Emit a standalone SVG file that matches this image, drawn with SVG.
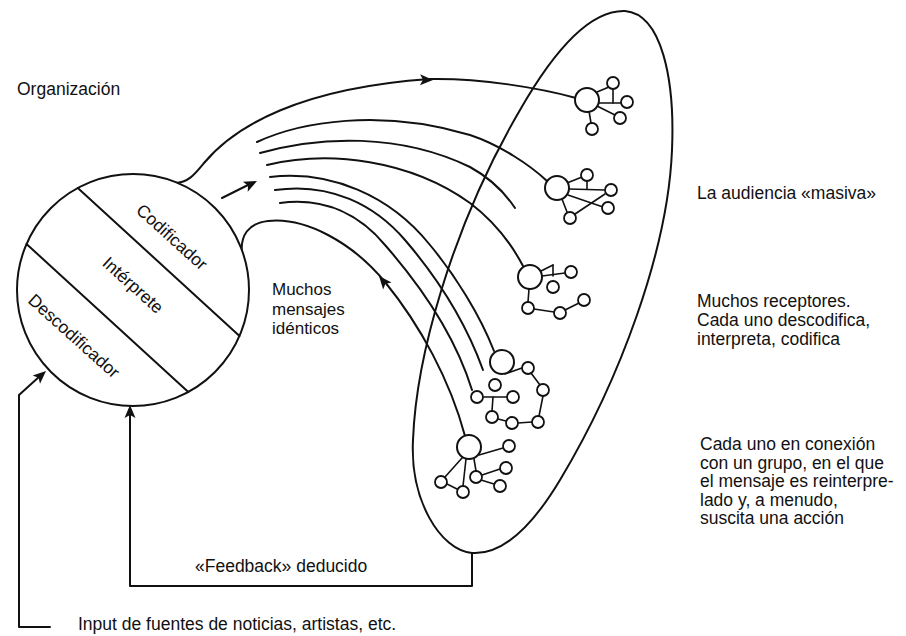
<svg xmlns="http://www.w3.org/2000/svg" width="906" height="636" viewBox="0 0 906 636">
  <style>
    .ln { fill: none; stroke: #111; stroke-width: 2; stroke-linecap: round; stroke-linejoin: round; }
    .th { fill: none; stroke: #111; stroke-width: 1.6; stroke-linecap: round; }
    .big { fill: #fff; stroke: #111; stroke-width: 2; }
    .sm { fill: #fff; stroke: #111; stroke-width: 1.8; }
    .ah { fill: #111; }
    text { font-family: "Liberation Sans", Arial, Helvetica, sans-serif; font-size: 17.5px; fill: #111; }
    .mid { font-size: 17px; }
  </style>
  <defs>
    <!-- filled arrowhead, tip at the origin, pointing along +x -->
    <path id="ah" d="M0,0 L-13,-5.5 L-10,0 L-13,5.5 Z"/>
  </defs>
  <rect width="906" height="636" fill="#fff"/>

  <!-- connectors -->
  <g id="connectors">
    <!-- channel from the organisation to the first receiver -->
    <path class="ln" d="M175,183 C188,183 195,174 204,163 C235,126 300,88 430,79 C480,78 540,88 576,98"/>
    <!-- return channel ending at the last receiver -->
    <path class="ln" d="M242,254 C240,236 248,223 268,221 C305,217 352,242 385,282 C420,325 450,380 465,436"/>
    <!-- bundle of identical messages -->
    <path class="ln" d="M257,142 C300,122 380,108 470,135 C500,145 530,165 547,181"/>
    <path class="ln" d="M260,153 C320,136 400,133 470,167 C490,178 505,193 515,208"/>
    <path class="ln" d="M267,165 C330,150 410,160 470,203 C495,222 512,245 523,266"/>
    <path class="ln" d="M270,177 C330,170 390,195 430,245 C455,275 480,315 494,351"/>
    <path class="ln" d="M275,190 C330,182 375,205 405,240 C435,275 465,320 483,370"/>
    <path class="ln" d="M280,203 C325,197 360,215 385,245 C420,285 455,335 472,390"/>
    <!-- small arrow at the mouth of the channel -->
    <path class="ln" d="M222,198 L250,184"/>
    <!-- inferred feedback loop -->
    <path class="ln" d="M472,553 L472,586 L130,586 L130,412"/>
    <!-- input from news sources -->
    <path class="ln" d="M50,627 L19,627 L19,395 L40,376"/>
    <!-- arrowheads -->
    <use href="#ah" class="ah" transform="translate(433,80) rotate(1)"/>
    <use href="#ah" class="ah" transform="translate(257,181) rotate(-26)"/>
    <use href="#ah" class="ah" transform="translate(379,276) rotate(-130)"/>
    <use href="#ah" class="ah" transform="translate(46,371) rotate(-42)"/>
    <use href="#ah" class="ah" transform="translate(130,405) rotate(-90)"/>
  </g>

  <!-- the organisation: encoder / interpreter / decoder -->
  <g id="organizacion">
    <circle class="big" cx="133" cy="290" r="116"/>
    <line class="ln" x1="77.8" y1="188" x2="239.5" y2="336"/>
    <line class="ln" x1="26.5" y1="244" x2="188.3" y2="392"/>
    <text transform="translate(172,237) rotate(42)" y="6" text-anchor="middle">Codificador</text>
    <text transform="translate(133,285) rotate(42)" y="6" text-anchor="middle">Intérprete</text>
    <text transform="translate(74,336) rotate(42)" y="6" text-anchor="middle">Descodificador</text>
  </g>

  <!-- the mass audience -->
  <g id="audiencia">
    <path class="ln" d="M472,553 C440,550 410,500 413,440 C416,360 450,230 520,110 C560,40 595,10 625,11 C662,14 675,80 672,150 C668,250 620,380 560,480 C530,530 500,555 472,553 Z"/>
  </g>

  <!-- receivers, each with its own group -->
  <g id="receptor1">
    <line class="th" x1="597" y1="92" x2="609" y2="87"/>
    <line class="th" x1="598" y1="103" x2="621" y2="103"/>
    <line class="th" x1="613" y1="89" x2="613" y2="103"/>
    <line class="th" x1="597" y1="106" x2="615" y2="115"/>
    <line class="th" x1="589" y1="111" x2="591" y2="123"/>
    <circle class="big" cx="587" cy="100" r="12"/>
    <circle class="sm" cx="613" cy="83" r="6"/>
    <circle class="sm" cx="627" cy="102" r="6"/>
    <circle class="sm" cx="620" cy="118" r="6"/>
    <circle class="sm" cx="592" cy="129" r="6"/>
  </g>

  <g id="receptor2">
    <line class="th" x1="567" y1="183" x2="582" y2="177"/>
    <line class="th" x1="587" y1="180" x2="587" y2="189"/>
    <line class="th" x1="569" y1="189" x2="605" y2="190"/>
    <line class="th" x1="568" y1="195" x2="603" y2="207"/>
    <line class="th" x1="605" y1="194" x2="575" y2="214"/>
    <line class="th" x1="562" y1="199" x2="567" y2="212"/>
    <circle class="big" cx="557" cy="188" r="12"/>
    <circle class="sm" cx="587" cy="175" r="6"/>
    <circle class="sm" cx="611" cy="190" r="6"/>
    <circle class="sm" cx="608" cy="208" r="6"/>
    <circle class="sm" cx="570" cy="218" r="6"/>
  </g>

  <g id="receptor3">
    <line class="th" x1="541" y1="271" x2="553" y2="265"/>
    <line class="th" x1="553" y1="265" x2="553" y2="276"/>
    <line class="th" x1="542" y1="276" x2="565" y2="273"/>
    <line class="th" x1="529" y1="289" x2="528" y2="302"/>
    <line class="th" x1="534" y1="309" x2="554" y2="312"/>
    <line class="th" x1="565" y1="310" x2="579" y2="303"/>
    <circle class="big" cx="530" cy="277" r="12"/>
    <circle class="sm" cx="553" cy="287" r="6"/>
    <circle class="sm" cx="571" cy="272" r="6"/>
    <circle class="sm" cx="528" cy="308" r="6"/>
    <circle class="sm" cx="560" cy="313" r="6"/>
    <circle class="sm" cx="584" cy="300" r="6"/>
  </g>

  <g id="receptor4">
    <line class="th" x1="505" y1="374" x2="522" y2="368"/>
    <line class="th" x1="531" y1="373" x2="540" y2="385"/>
    <line class="th" x1="543" y1="396" x2="539" y2="416"/>
    <line class="th" x1="532" y1="422" x2="518" y2="423"/>
    <line class="th" x1="506" y1="421" x2="498" y2="419"/>
    <line class="th" x1="492" y1="411" x2="493" y2="397"/>
    <line class="th" x1="483" y1="397" x2="507" y2="397"/>
    <circle class="big" cx="502" cy="362" r="12"/>
    <circle class="sm" cx="528" cy="368" r="6"/>
    <circle class="sm" cx="543" cy="390" r="6"/>
    <circle class="sm" cx="495" cy="385" r="6"/>
    <circle class="sm" cx="477" cy="397" r="6"/>
    <circle class="sm" cx="513" cy="397" r="6"/>
    <circle class="sm" cx="492" cy="417" r="6"/>
    <circle class="sm" cx="512" cy="423" r="6"/>
    <circle class="sm" cx="538" cy="422" r="6"/>
  </g>

  <g id="receptor5">
    <line class="th" x1="479" y1="455" x2="503" y2="448"/>
    <line class="th" x1="474" y1="459" x2="476" y2="471"/>
    <line class="th" x1="482" y1="475" x2="500" y2="469"/>
    <line class="th" x1="481" y1="480" x2="494" y2="484"/>
    <line class="th" x1="462" y1="458" x2="445" y2="477"/>
    <line class="th" x1="466" y1="459" x2="463" y2="486"/>
    <line class="th" x1="447" y1="484" x2="457" y2="489"/>
    <circle class="big" cx="469" cy="447" r="12"/>
    <circle class="sm" cx="509" cy="446" r="6"/>
    <circle class="sm" cx="506" cy="468" r="6"/>
    <circle class="sm" cx="476" cy="477" r="6"/>
    <circle class="sm" cx="500" cy="486" r="6"/>
    <circle class="sm" cx="441" cy="482" r="6"/>
    <circle class="sm" cx="463" cy="492" r="6"/>
  </g>

  <!-- labels -->
  <g id="etiquetas">
    <text x="17" y="95">Organización</text>
    <text class="mid" x="272" y="295">Muchos</text>
    <text class="mid" x="272" y="314.5">mensajes</text>
    <text class="mid" x="272" y="334">idénticos</text>
    <text x="697" y="199">La audiencia «masiva»</text>
    <text x="697" y="307">Muchos receptores.</text>
    <text x="697" y="326">Cada uno descodifica,</text>
    <text x="697" y="345">interpreta, codifica</text>
    <text x="700" y="450">Cada uno en conexión</text>
    <text x="700" y="468.5">con un grupo, en el que</text>
    <text x="700" y="487">el mensaje es reinterpre-</text>
    <text x="700" y="505.5">lado y, a menudo,</text>
    <text x="700" y="524">suscita una acción</text>
    <text x="195" y="572">«Feedback» deducido</text>
    <text x="78" y="630">Input de fuentes de noticias, artistas, etc.</text>
  </g>
</svg>
